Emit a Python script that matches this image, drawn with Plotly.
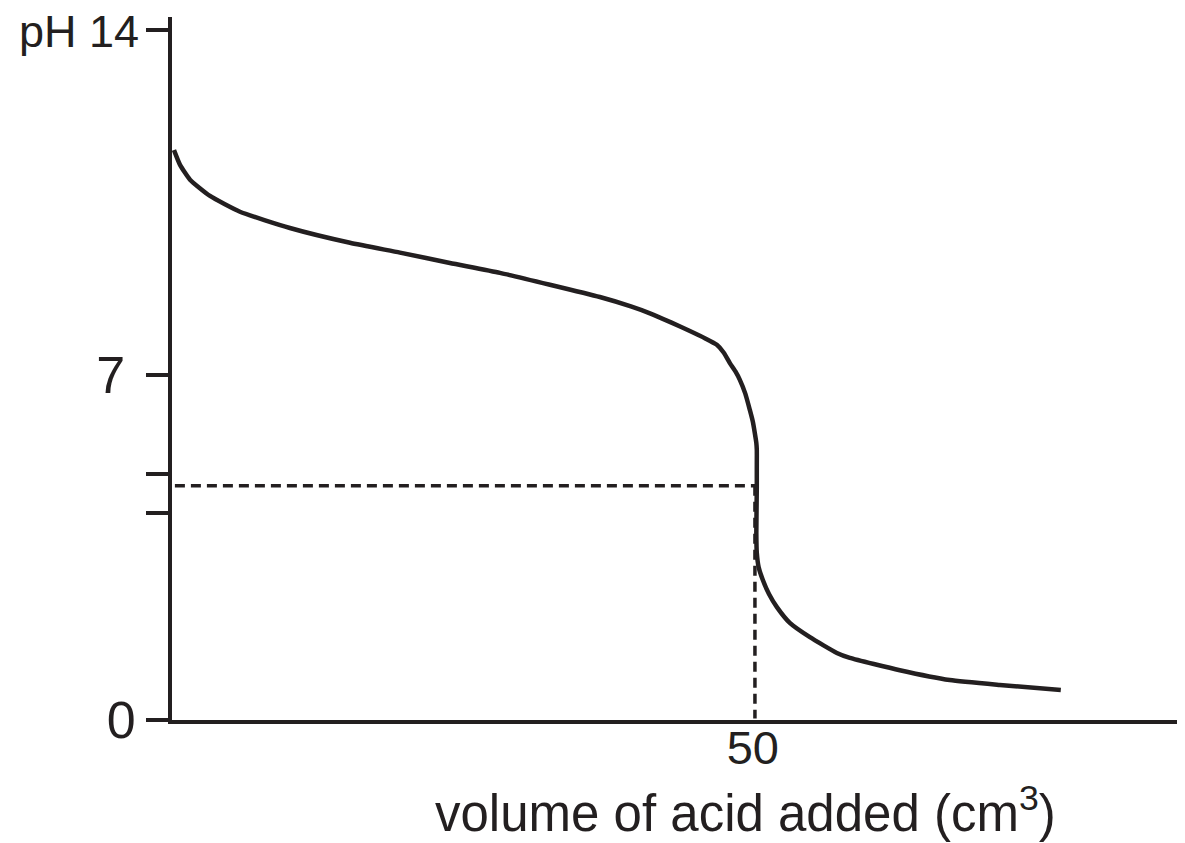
import plotly.graph_objects as go

# Titration curve
volume = [0.17, 0.69, 1.55, 3.27, 5.85, 10.15, 15.32, 19.62, 23.92, 28.23, 32.53,
          36.83, 39.5, 41.14, 43.0, 44.58, 45.9, 46.90, 47.5, 48.02, 48.5, 48.88,
          49.35, 49.74, 50.0, 50.17, 50.30, 50.34, 50.34, 50.34,
          50.30, 50.34, 50.5, 50.86, 51.4, 52.07, 53.18, 54.91, 57.23, 58.35,
          62.65, 66.95, 71.26, 76.51]
ph = [11.56, 11.26, 10.96, 10.63, 10.31, 9.98, 9.68, 9.48, 9.27, 9.07, 8.83,
      8.58, 8.39, 8.25, 8.06, 7.89, 7.74, 7.61, 7.45, 7.24, 7.07, 6.90,
      6.62, 6.29, 6.05, 5.82, 5.62, 5.48, 5.10, 4.73,
      3.79, 3.39, 3.10, 2.84, 2.55, 2.29, 1.97, 1.68, 1.36, 1.26,
      1.01, 0.81, 0.71, 0.61]

endpoint_volume = 50.3
endpoint_ph = 4.75

y_tickvals = [0, 4.2, 5.0, 7, 14]
y_ticktext = ["0", "", "", "7\u2009", ""]
x_tickvals = [50]
x_ticktext = ["50"]

ink = "#231f20"
font_family = "Liberation Sans, Arial, sans-serif"

fig = go.Figure()

# dashed guide lines
fig.add_trace(go.Scatter(x=[0.25, endpoint_volume], y=[endpoint_ph, endpoint_ph],
                         mode="lines", line=dict(color=ink, width=3.5, dash="10px,6px"),
                         hoverinfo="skip", showlegend=False))
fig.add_trace(go.Scatter(x=[endpoint_volume - 0.12, endpoint_volume - 0.12], y=[endpoint_ph, 0.03],
                         mode="lines", line=dict(color=ink, width=3.5, dash="10px,6px"),
                         hoverinfo="skip", showlegend=False))
# curve
fig.add_trace(go.Scatter(x=volume, y=ph, mode="lines",
                         line=dict(color=ink, width=4.5, shape="spline", smoothing=0.5),
                         showlegend=False))

W, H = 1177, 835
L, R, T, B = 164, 0, 9, 123
plot_h = H - T - B

fig.update_layout(
    width=W, height=H,
    margin=dict(l=L, r=R, t=T, b=B),
    paper_bgcolor="white", plot_bgcolor="white",
    font=dict(family=font_family, color=ink, size=52),
    xaxis=dict(range=[0, 87.2], showgrid=False, zeroline=False,
               showline=True, linewidth=4, linecolor=ink,
               tickvals=x_tickvals, ticktext=x_ticktext, ticks="",
               ticklabelstandoff=-16,
               tickfont=dict(size=47, family=font_family, color=ink)),
    yaxis=dict(range=[0, 14.26], showgrid=False, zeroline=False,
               showline=True, linewidth=4, linecolor=ink,
               tickvals=y_tickvals, ticktext=y_ticktext,
               ticks="outside", ticklen=22, tickwidth=4, tickcolor=ink,
               tickfont=dict(size=52, family=font_family, color=ink)),
    annotations=[
        dict(text="pH 14", x=0, y=14, xref="paper", yref="y", xanchor="right",
             yanchor="middle", xshift=-31, yshift=-2, showarrow=False,
             font=dict(size=45, family=font_family, color=ink)),
        dict(text="volume of acid added (cm<sup>3</sup>)",
             x=(745 - 8 - L) / (W - L - R), y=-(810 - 720) / plot_h,
             xref="paper", yref="paper", xanchor="center", yanchor="middle",
             showarrow=False, font=dict(size=51, family=font_family, color=ink)),
    ],
)

fig.write_html("out.html")
